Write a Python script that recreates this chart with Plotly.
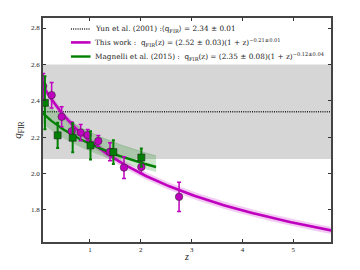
import numpy as np
import plotly.graph_objects as go

# ---- data ----
this_z = [0.08, 0.246, 0.443, 0.64, 0.817, 0.955, 1.164, 1.394, 1.669, 2.01, 2.752]
this_q = [2.48, 2.431, 2.312, 2.233, 2.225, 2.212, 2.179, 2.12, 2.033, 2.036, 1.872]
this_err = [0.07, 0.07, 0.055, 0.05, 0.045, 0.03, 0.03, 0.05, 0.06, 0.035, 0.08]

mag_z = [0.114, 0.364, 0.66, 1.01, 1.46, 2.01]
mag_q = [2.389, 2.21, 2.197, 2.155, 2.118, 2.088]
mag_err = [0.146, 0.07, 0.08, 0.077, 0.065, 0.05]

yun_q = 2.34
yun_band = [2.08, 2.60]

this_fit = dict(a=2.52, b=-0.21, a_hi=2.54, b_hi=-0.208, a_lo=2.50, b_lo=-0.212)
mag_fit = dict(a=2.35, b=-0.12, a_hi=2.42, b_hi=-0.12, a_lo=2.29, b_lo=-0.11)

legend_labels = [
    "Yun et al. (2001) :⟨q<sub>FIR</sub>⟩ = 2.34 ± 0.01",
    "This work :  q<sub>FIR</sub>(z) = (2.52 ± 0.03)(1 + z)<sup>−0.21±0.01</sup>",
    "Magnelli et al. (2015) :  q<sub>FIR</sub>(z) = (2.35 ± 0.08)(1 + z)<sup>−0.12±0.04</sup>",
]

xrange_ = [0.076, 5.74]
yrange_ = [1.624, 2.855]

MAG = "#BF00BF"
GRN = "#008000"
FONT = "Liberation Serif"
LFONT = "DejaVu Serif"

zt = np.linspace(xrange_[0] - 0.05, xrange_[1] + 0.05, 200)
zm = np.linspace(xrange_[0] - 0.05, 2.3, 120)


def pl(z, a, b):
    return a * (1 + z) ** b


fig = go.Figure()

# Yun band
fig.add_shape(type="rect", xref="paper", x0=0, x1=1, yref="y",
              y0=yun_band[0], y1=yun_band[1], fillcolor="#d6d6d6",
              line_width=0, layer="below")

yun_style = dict(color="#222", width=1.6, dash="1px,1.2px")
this_style = dict(color=MAG, width=2.6)
mag_style = dict(color=GRN, width=2.4)

# Yun line
fig.add_trace(go.Scatter(x=xrange_, y=[yun_q, yun_q], mode="lines",
                         line=yun_style, name=legend_labels[0], showlegend=False))

# Magnelli band
fig.add_trace(go.Scatter(x=zm, y=pl(zm, mag_fit["a_lo"], mag_fit["b_lo"]), mode="lines",
                         line=dict(width=0, color=GRN), showlegend=False, hoverinfo="skip"))
fig.add_trace(go.Scatter(x=zm, y=pl(zm, mag_fit["a_hi"], mag_fit["b_hi"]), mode="lines",
                         line=dict(width=0.6, color="rgba(0,128,0,0.35)"), fill="tonexty",
                         fillcolor="rgba(0,128,0,0.2)", showlegend=False, hoverinfo="skip"))
# This work band
fig.add_trace(go.Scatter(x=zt, y=pl(zt, this_fit["a_lo"], this_fit["b_lo"]), mode="lines",
                         line=dict(width=0, color=MAG), showlegend=False, hoverinfo="skip"))
fig.add_trace(go.Scatter(x=zt, y=pl(zt, this_fit["a_hi"], this_fit["b_hi"]), mode="lines",
                         line=dict(width=0), fill="tonexty",
                         fillcolor="rgba(191,0,191,0.2)", showlegend=False, hoverinfo="skip"))

# fit lines
fig.add_trace(go.Scatter(x=zt, y=pl(zt, this_fit["a"], this_fit["b"]), mode="lines",
                         line=this_style, name=legend_labels[1], showlegend=False))
fig.add_trace(go.Scatter(x=zm, y=pl(zm, mag_fit["a"], mag_fit["b"]), mode="lines",
                         line=mag_style, name=legend_labels[2], showlegend=False))

# data points
fig.add_trace(go.Scatter(x=this_z, y=this_q, mode="markers", showlegend=False,
                         marker=dict(symbol="circle", size=7.5, color=MAG,
                                     line=dict(color="#333", width=0.6)),
                         error_y=dict(type="data", array=this_err, color=MAG,
                                      thickness=1.5, width=2)))
fig.add_trace(go.Scatter(x=mag_z, y=mag_q, mode="markers", showlegend=False,
                         marker=dict(symbol="square", size=7, color=GRN,
                                     line=dict(color="#222", width=0.6)),
                         error_y=dict(type="data", array=mag_err, color=GRN,
                                      thickness=2, width=1.5)))

# manual legend (paper coordinates)
leg_rows = [0.951, 0.891, 0.828]
leg_styles = [yun_style, this_style, mag_style]
for yy, lab, st in zip(leg_rows, legend_labels, leg_styles):
    fig.add_shape(type="line", xref="paper", yref="paper", x0=0.097, x1=0.165,
                  y0=yy, y1=yy, line=st)
    fig.add_annotation(xref="paper", yref="paper", x=0.172, y=yy, text=lab,
                       showarrow=False, xanchor="left", yanchor="middle",
                       font=dict(family=LFONT, size=7.3, color="#222"))

axis_common = dict(showgrid=False, zeroline=False, showline=True, linecolor="#444",
                   linewidth=1.5, mirror="ticks", ticks="inside", ticklen=3,
                   tickcolor="#333", tickwidth=0.8, automargin=False,
                   tickfont=dict(family=FONT, size=7, color="#222"))

fig.update_xaxes(range=xrange_, tickvals=[1, 2, 3, 4, 5],
                 title=dict(text="<i>z</i>", font=dict(family=FONT, size=10, color="#222"),
                            standoff=3),
                 **axis_common)
fig.update_yaxes(range=yrange_, tickvals=[1.8, 2.0, 2.2, 2.4, 2.6, 2.8],
                 tickformat=".1f",
                 title=dict(text="<i>q</i><sub>FIR</sub>",
                            font=dict(family=FONT, size=11, color="#222"), standoff=7),
                 **axis_common)

# page body keeps its default 8px margin, so the figure is sized to fit inside it
fig.update_layout(
    width=352, height=254,
    margin=dict(l=35, r=29, t=10, b=20),
    plot_bgcolor="white", paper_bgcolor="white",
    font=dict(family=FONT, size=8, color="#222"),
    showlegend=False,
)

fig.write_html("out.html")
